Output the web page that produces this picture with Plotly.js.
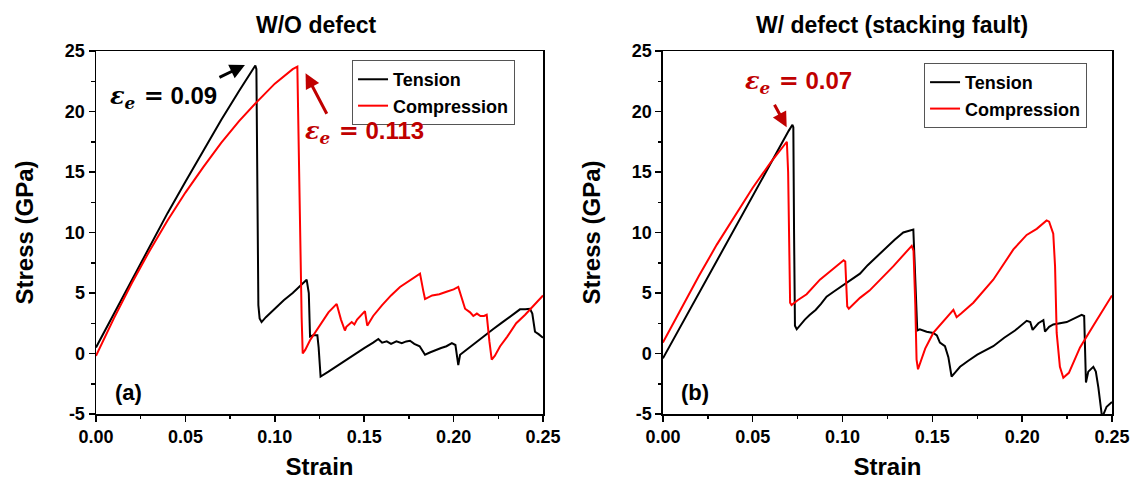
<!DOCTYPE html>
<html>
<head>
<meta charset="utf-8">
<script src="https://cdn.plot.ly/plotly-3.0.1.min.js"></script>
<style>
  html, body { margin: 0; padding: 0; background: #fff; }
  #chart { width: 1138px; height: 485px; }
</style>
</head>
<body>
<div id="chart"></div>
<script>
// ---- Panel (a): without defect ----
const strainTensionA = [0, 0.01, 0.02, 0.03, 0.04, 0.05, 0.06, 0.07, 0.08, 0.0891, 0.0897, 0.0903, 0.0908, 0.0915, 0.0926,
  0.095, 0.100, 0.105, 0.110, 0.115, 0.1178, 0.1190, 0.1197, 0.1215, 0.1238, 0.1245, 0.1256, 0.130, 0.135, 0.140, 0.145,
  0.150, 0.155, 0.1579, 0.160, 0.1626, 0.165, 0.168, 0.171, 0.1735, 0.1756, 0.178, 0.181, 0.184, 0.187, 0.190, 0.193, 0.196,
  0.199, 0.2010, 0.2026, 0.2036, 0.207, 0.212, 0.217, 0.222, 0.227, 0.232, 0.2371, 0.2400, 0.2427, 0.2440, 0.2455,
  0.2475, 0.2493, 0.25];
const stressTensionA = [0.5, 3.3, 6.1, 8.9, 11.6, 14.2, 16.8, 19.3, 21.7, 23.8, 23.5, 15, 4.0, 2.9, 2.6,
  3.0, 3.7, 4.4, 5.0, 5.7, 6.1, 5.0, 1.4, 1.5, 1.5, 0.5, -1.9, -1.5, -1.0, -0.5, 0.0,
  0.45, 0.9, 1.2, 0.9, 1.0, 0.8, 1.0, 0.85, 1.0, 1.05, 0.8, 0.6, -0.1, 0.1, 0.3, 0.45, 0.6,
  0.85, 0.7, -0.95, -0.1, 0.3, 0.85, 1.4, 2.0, 2.55, 3.1, 3.65, 3.65, 3.7, 3.3, 1.8,
  1.6, 1.4, 1.3];

const strainCompA = [0, 0.005, 0.01, 0.02, 0.03, 0.04, 0.05, 0.06, 0.07, 0.08, 0.09, 0.10, 0.105, 0.110, 0.1126,
  0.1130, 0.1140, 0.1150, 0.1156, 0.1170, 0.1197, 0.125, 0.130, 0.1346, 0.1370, 0.1392, 0.1400, 0.1430, 0.1445, 0.1460,
  0.1480, 0.1504, 0.1517, 0.155, 0.160, 0.165, 0.170, 0.175, 0.178, 0.1812, 0.1830, 0.1840, 0.188, 0.192, 0.196,
  0.200, 0.2026, 0.2045, 0.2064, 0.2092, 0.2110, 0.2130, 0.2150, 0.2170, 0.2185, 0.2200, 0.2213, 0.2230, 0.2260, 0.230, 0.235,
  0.240, 0.245, 0.25];
const stressCompA = [-0.2, 1.4, 2.9, 5.8, 8.5, 11.0, 13.3, 15.4, 17.4, 19.2, 20.8, 22.3, 22.9, 23.5, 23.7,
  20, 10, 3, 0.0, 0.3, 1.1, 2.3, 3.4, 4.1, 2.8, 1.9, 2.2, 2.6, 2.4, 2.8,
  3.1, 3.5, 2.3, 3.1, 4.0, 4.8, 5.5, 6.0, 6.3, 6.6, 5.2, 4.5, 4.8, 4.9, 5.1,
  5.3, 5.5, 4.5, 3.7, 3.4, 3.1, 3.3, 3.1, 3.1, 3.2, 1.0, -0.5, -0.2, 0.6, 1.4, 2.5,
  3.2, 4.0, 4.8];

// ---- Panel (b): with stacking fault ----
const strainTensionB = [0, 0.01, 0.02, 0.03, 0.04, 0.05, 0.06, 0.07, 0.0721, 0.0726, 0.0730, 0.0735, 0.0745, 0.076,
  0.0790, 0.0818, 0.085, 0.0880, 0.0911, 0.095, 0.099, 0.1023, 0.106, 0.1097, 0.114, 0.119, 0.1245, 0.129, 0.1338,
  0.1365, 0.1394, 0.1400, 0.1410, 0.1416, 0.1430, 0.1468, 0.1505, 0.1525, 0.1542, 0.157, 0.1589, 0.1607, 0.1625,
  0.1654, 0.170, 0.175, 0.1839, 0.190, 0.196, 0.2025, 0.2045, 0.2058, 0.209, 0.2118, 0.2127, 0.2150, 0.2173, 0.2248,
  0.2331, 0.2345, 0.2355, 0.2368, 0.2396, 0.2410, 0.2424, 0.2437, 0.2445, 0.247, 0.25];
const stressTensionB = [-0.4, 2.3, 5.0, 7.6, 10.3, 13.0, 15.7, 18.4, 18.9, 18.7, 10, 2.3, 2.0, 2.3,
  2.8, 3.2, 3.6, 4.1, 4.7, 5.1, 5.5, 5.8, 6.2, 6.6, 7.3, 8.0, 8.8, 9.4, 10.0,
  10.1, 10.25, 8.0, 3.0, 1.9, 2.0, 1.8, 1.7, 1.5, 0.9, 0.6, -0.3, -1.9, -1.6,
  -1.1, -0.6, -0.1, 0.6, 1.3, 1.9, 2.7, 2.6, 1.95, 2.5, 2.75, 1.8, 2.2, 2.4, 2.6,
  3.2, 3.1, -2.4, -1.5, -1.1, -1.5, -2.8, -4.7, -5.3, -4.4, -4.0];

const strainCompB = [0, 0.01, 0.02, 0.03, 0.04, 0.05, 0.06, 0.066, 0.0690, 0.0697, 0.0703, 0.0708, 0.0716, 0.075,
  0.080, 0.0874, 0.094, 0.1006, 0.1015, 0.1026, 0.1035, 0.1097, 0.115, 0.1282, 0.1385, 0.1395, 0.1405, 0.1412,
  0.1420, 0.146, 0.1505, 0.155, 0.1598, 0.1617, 0.1635, 0.1660, 0.1728, 0.1839, 0.1951, 0.2025, 0.2081, 0.2136,
  0.2150, 0.2173, 0.2183, 0.2192, 0.2210, 0.2229, 0.2260, 0.2322, 0.240, 0.25];
const stressCompB = [0.9, 3.7, 6.4, 9.0, 11.4, 13.7, 15.8, 16.9, 17.5, 15, 8, 4.2, 4.0, 4.4,
  4.9, 6.1, 6.9, 7.7, 7.6, 3.9, 3.7, 4.6, 5.2, 7.2, 8.9, 8.5, 4, -0.5,
  -1.3, 0.4, 1.7, 2.5, 3.3, 3.6, 3.0, 3.3, 4.2, 6.1, 8.6, 9.8, 10.3, 11.0,
  10.9, 9.9, 7.2, 1.7, -1.1, -2.0, -1.6, 0.5, 2.4, 4.8];

// ---- Axis ticks ----
const strainTicks = [0, 0.05, 0.10, 0.15, 0.20, 0.25];
const strainTickText = ['0.00', '0.05', '0.10', '0.15', '0.20', '0.25'];
const strainMinor = [0.025, 0.075, 0.125, 0.175, 0.225];
const stressTicks = [-5, 0, 5, 10, 15, 20, 25];
const stressTickText = ['-5', '0', '5', '10', '15', '20', '25'];
const stressMinor = [-2.5, 2.5, 7.5, 12.5, 17.5, 22.5];

const FONT = 'Liberation Sans, Arial, Helvetica, sans-serif';
const DARKRED = '#c00000';

function line(x, y, name, color, xa, ya, legend) {
  return {
    x: x, y: y, name: name, type: 'scatter', mode: 'lines',
    line: { color: color, width: 2 },
    xaxis: xa, yaxis: ya, legend: legend
  };
}

const traces = [
  line(strainTensionA, stressTensionA, 'Tension', '#000000', 'x', 'y', 'legend'),
  line(strainCompA, stressCompA, 'Compression', '#ff0000', 'x', 'y', 'legend'),
  line(strainTensionB, stressTensionB, 'Tension', '#000000', 'x2', 'y2', 'legend2'),
  line(strainCompB, stressCompB, 'Compression', '#ff0000', 'x2', 'y2', 'legend2')
];

function xAxis(domain, anchor) {
  return {
    domain: domain, anchor: anchor, range: [0, 0.25],
    tickmode: 'array', tickvals: strainTicks, ticktext: strainTickText,
    ticks: 'outside', ticklen: 6, tickwidth: 1.5, tickcolor: '#000',
    minor: { tickmode: 'array', tickvals: strainMinor, ticks: 'outside', ticklen: 3.5, tickwidth: 1.5, tickcolor: '#000' },
    showline: true, linecolor: '#000', linewidth: 1.5, mirror: true,
    showgrid: false, zeroline: false,
    tickfont: { family: FONT, size: 18, color: '#000', weight: 'bold' },
    title: { text: 'Strain', font: { family: FONT, size: 24, color: '#000', weight: 'bold' }, standoff: 12 }
  };
}
function yAxis(anchor) {
  return {
    domain: [0, 1], anchor: anchor, range: [-5, 25],
    tickmode: 'array', tickvals: stressTicks, ticktext: stressTickText,
    ticks: 'outside', ticklen: 6, tickwidth: 1.5, tickcolor: '#000',
    minor: { tickmode: 'array', tickvals: stressMinor, ticks: 'outside', ticklen: 3.5, tickwidth: 1.5, tickcolor: '#000' },
    showline: true, linecolor: '#000', linewidth: 1.5, mirror: true,
    showgrid: false, zeroline: false,
    tickfont: { family: FONT, size: 18, color: '#000', weight: 'bold' },
    title: { text: 'Stress (GPa)', font: { family: FONT, size: 24, color: '#000', weight: 'bold' }, standoff: 24 }
  };
}

function legendBox(x, y) {
  return {
    x: x, y: y, xanchor: 'left', yanchor: 'top',
    bgcolor: '#ffffff', bordercolor: '#555', borderwidth: 1,
    font: { family: FONT, size: 18, color: '#000', weight: 'bold' },
    tracegroupgap: 0, itemwidth: 30
  };
}

const eps = '<span style="font-family:DejaVu Serif"><i>ε</i><sub><i>e</i></sub> =</span> ';

function note(text, x, y, xref, yref, color, size) {
  return {
    text: text, x: x, y: y, xref: xref, yref: yref, showarrow: false,
    xanchor: 'center', yanchor: 'middle',
    font: { family: FONT, size: size, color: color, weight: 'bold' }
  };
}
function arrow(x, y, ax, ay, xref, yref, color) {
  return {
    text: '', x: x, y: y, xref: xref, yref: yref, ax: ax, ay: ay,
    showarrow: true, arrowhead: 2, arrowsize: 1, arrowwidth: 3, arrowcolor: color
  };
}

const layout = {
  width: 1138, height: 485,
  margin: { l: 96, r: 26, t: 51, b: 71 },
  paper_bgcolor: '#ffffff', plot_bgcolor: '#ffffff',
  showlegend: true,
  xaxis: xAxis([0, 0.44], 'y'),
  yaxis: yAxis('x'),
  xaxis2: xAxis([0.558, 1], 'y2'),
  yaxis2: yAxis('x2'),
  legend: legendBox(0.252, 0.975),
  legend2: legendBox(0.815, 0.967),
  annotations: [
    note('W/O defect', 0.2165, 1.0716, 'paper', 'paper', '#000', 23),
    note('W/ defect (stacking fault)', 0.7835, 1.0716, 'paper', 'paper', '#000', 23),
    note('(a)', 0.0315, 0.058, 'paper', 'paper', '#000', 22),
    note('(b)', 0.5896, 0.058, 'paper', 'paper', '#000', 22),
    note(eps + '0.09', 0.0375, 21.2, 'x', 'y', '#000', 24),
    note(eps + '0.113', 0.1499, 18.3, 'x', 'y', DARKRED, 24),
    note(eps + '0.07', 0.0757, 22.4, 'x2', 'y2', DARKRED, 24),
    arrow(0.0833, 23.84, -27, 13, 'x', 'y', '#000'),
    arrow(0.1172, 23.16, 22, 42, 'x', 'y', DARKRED),
    arrow(0.0689, 18.7, -13, -24, 'x2', 'y2', DARKRED)
  ]
};

Plotly.newPlot('chart', traces, layout, { staticPlot: true, displayModeBar: false });
</script>
</body>
</html>
